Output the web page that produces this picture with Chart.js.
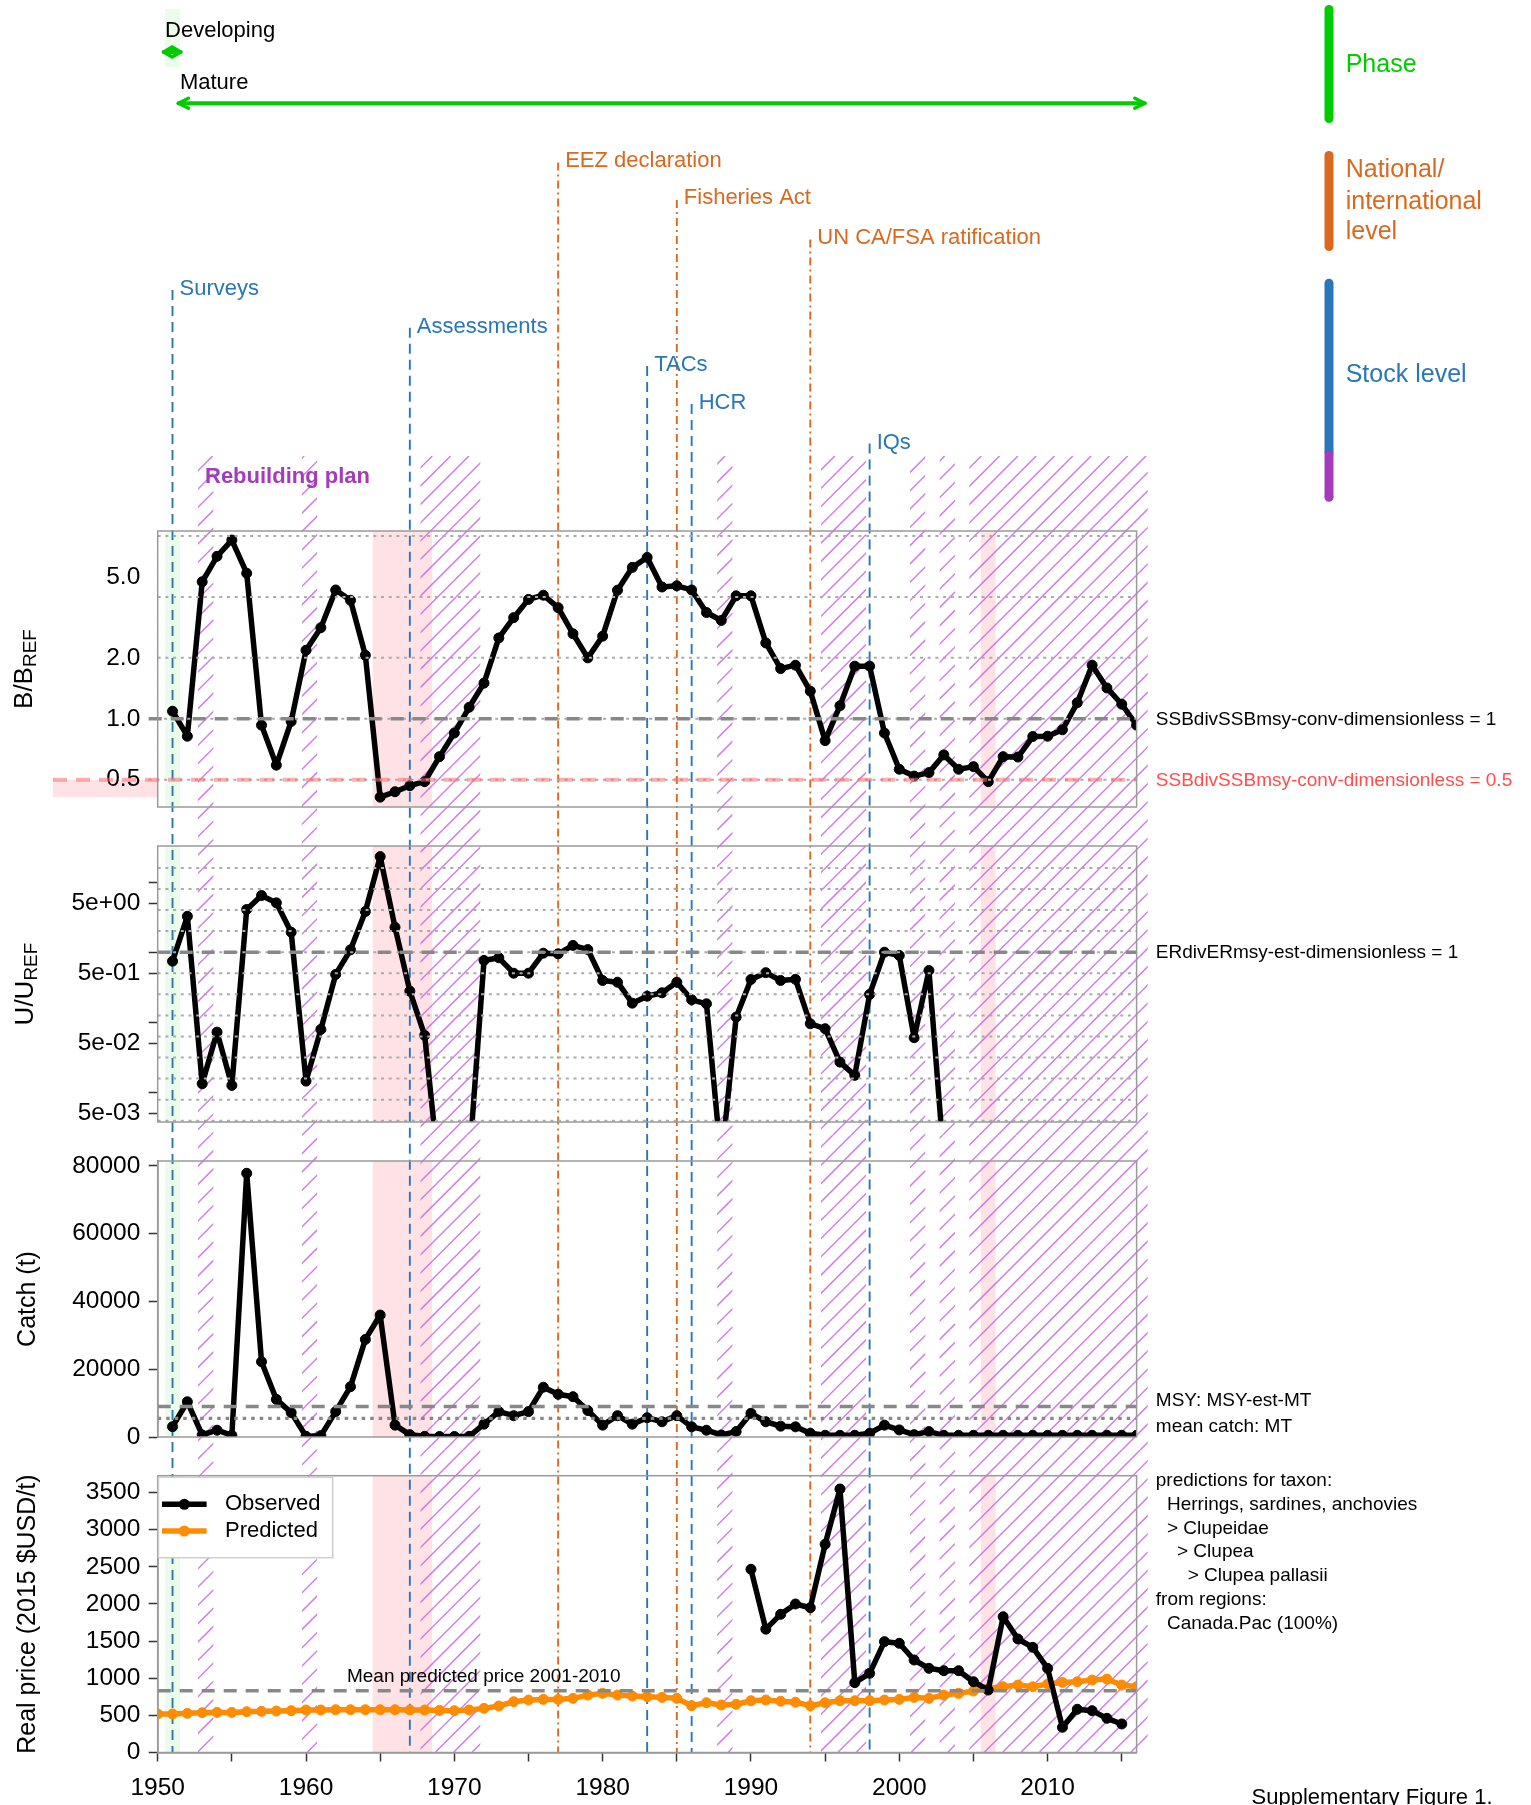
<!DOCTYPE html>
<html>
<head>
<meta charset="utf-8">
<script src="https://cdn.jsdelivr.net/npm/chart.js@4.4.1/dist/chart.umd.min.js"></script>
<style>
html,body{margin:0;padding:0;background:#fff;}
body{width:1531px;height:1805px;position:relative;overflow:hidden;}
canvas{position:absolute;left:0;}
</style>
</head>
<body>
<canvas id="cB" width="1531" height="830" style="top:0px"></canvas>
<canvas id="cU" width="1531" height="305" style="top:830px"></canvas>
<canvas id="cC" width="1531" height="315" style="top:1135px"></canvas>
<canvas id="cP" width="1531" height="355" style="top:1450px"></canvas>
<script>
// ---------------- DATA ----------------
const years = [1950,1951,1952,1953,1954,1955,1956,1957,1958,1959,
  1960,1961,1962,1963,1964,1965,1966,1967,1968,1969,
  1970,1971,1972,1973,1974,1975,1976,1977,1978,1979,
  1980,1981,1982,1983,1984,1985,1986,1987,1988,1989,
  1990,1991,1992,1993,1994,1995,1996,1997,1998,1999,
  2000,2001,2002,2003,2004,2005,2006,2007,2008,2009,
  2010,2011,2012,2013,2014,2015,2016];

const bbref = [null,
  1.09,0.82,4.75,6.35,7.64,5.24,0.93,0.59,0.97,2.18,
  2.82,4.33,3.85,2.06,0.41,0.436,0.467,0.489,0.65,0.85,
  1.14,1.50,2.51,3.16,3.89,4.08,3.54,2.63,2.00,2.56,
  4.32,5.60,6.27,4.48,4.54,4.33,3.35,3.06,4.05,4.05,
  2.37,1.77,1.84,1.37,0.78,1.16,1.82,1.82,0.85,0.563,
  0.521,0.542,0.663,0.563,0.58,0.489,0.65,0.647,0.817,0.82,
  0.882,1.20,1.84,1.42,1.18,0.93];

const uuref = [null,
  0.744,3.26,0.0132,0.0721,0.0125,4.07,6.45,5.07,1.93,0.0144,
  0.0789,0.481,1.08,3.81,23.2,2.27,0.278,0.0648,0.0006,0.0005,
  0.001,0.762,0.832,0.501,0.501,0.968,0.948,1.25,1.09,0.394,
  0.373,0.187,0.235,0.263,0.373,0.209,0.183,0.001,0.118,0.408,
  0.51,0.394,0.41,0.095,0.0807,0.0269,0.0174,0.249,1.0,0.897,
  0.06,0.548,0.0011,null,null,null,null,null,null,null,
  null,null,null,null,null,null];

const catchT = [null,
  3040,10400,600,2000,500,77850,22200,11100,7200,200,
  400,7500,14850,28800,36000,3500,700,200,150,150,
  200,3800,7500,6300,7500,14700,12600,11900,7800,3500,
  6300,3800,5700,4500,6300,3000,2000,600,1600,7000,
  4500,3200,3000,1100,500,500,500,1100,3500,2100,
  700,1600,500,500,500,500,500,500,500,500,
  500,500,500,500,500,500];

const priceObs = [null,null,null,null,null,null,null,null,null,null,
  null,null,null,null,null,null,null,null,null,null,
  null,null,null,null,null,null,null,null,null,null,
  null,null,null,null,null,null,null,null,null,null,
  2466,1660,1860,1999,1949,2803,3547,940,1066,1492,
  1470,1245,1133,1101,1101,953,841,1828,1528,1416,
  1133,339,582,563,460,384,null];

const pricePred = [518,518,527,536,540,540,549,554,558,563,
  572,572,576,576,576,576,576,572,572,567,
  563,572,594,626,684,706,715,715,729,773,
  796,773,760,751,742,729,630,670,639,648,
  697,706,690,677,630,670,697,697,697,706,
  715,742,729,773,796,827,863,885,908,885,
  921,943,952,975,988,908,885];

const bTicks = [0.5, 1, 2, 5];
const bTickLabels = ['0.5', '1.0', '2.0', '5.0'];
const bGrid = [0.5, 1, 2, 4, 8];
const uTicks = [0.005, 0.01, 0.05, 0.1, 0.5, 1, 5, 10];
const uTickLabels = ['5e-03', '', '5e-02', '', '5e-01', '', '5e+00', ''];
const uGrid = [0.00390625, 0.0078125, 0.015625, 0.03125, 0.0625, 0.125, 0.25, 0.5, 1, 2, 4, 8, 16];
const catchTicks = [0, 20000, 40000, 60000, 80000];
const priceTicks = [0, 500, 1000, 1500, 2000, 2500, 3000, 3500];
const yearTicks = [1950,1955,1960,1965,1970,1975,1980,1985,1990,1995,2000,2005,2010,2015];
const yearTickLabels = ['1950','','1960','','1970','','1980','','1990','','2000','','2010',''];

const bTarget = 1;
const bLimit = 0.5;
const uTarget = 1;
const msyCatch = 9000;
const meanCatch = 5520;
const meanPredPrice = 832;

const phaseNames = ['Developing', 'Mature'];
const phaseStart = [1951, 1952];
const phaseEnd = [1951, 2016];
const stockEventNames = ['Surveys', 'Assessments', 'TACs', 'HCR', 'IQs'];
const stockEventYears = [1951, 1967, 1983, 1986, 1998];
const nationalEventNames = ['EEZ declaration', 'Fisheries Act', 'UN CA/FSA ratification'];
const nationalEventYears = [1977, 1985, 1994];
const rebuildStart = [1953, 1960, 1968, 1988, 1995, 2001, 2003, 2005];
const rebuildEnd   = [1953, 1960, 1971, 1988, 1997, 2001, 2003, 2016];
const lowStart = [1965, 2006];
const lowEnd   = [1968, 2006];
const devStart = [1951];
const devEnd   = [1951];

const taxonLines = ['predictions for taxon:', 'Herrings, sardines, anchovies', '> Clupeidae', '> Clupea', '> Clupea pallasii', 'from regions:', 'Canada.Pac (100%)'];

// ---------------- LAYOUT / STYLE ----------------
const FONT = "'Liberation Sans', Arial, Helvetica, sans-serif";
Chart.defaults.font.family = FONT;
Chart.defaults.color = '#000';

const W = 1531, PLOT_LEFT = 157.7, PLOT_RIGHT = 1136.6;
const PANELS = {
  b: {id: 'cB', top: 0,    h: 830, areaTop: 531,    areaBottom: 807},
  u: {id: 'cU', top: 830,  h: 305, areaTop: 846,    areaBottom: 1122},
  c: {id: 'cC', top: 1135, h: 315, areaTop: 1161,   areaBottom: 1437},
  p: {id: 'cP', top: 1450, h: 355, areaTop: 1475.7, areaBottom: 1752.5}
};
const HATCH_TOP = 456, HATCH_BOTTOM = 1752, LINE_BOTTOM = 1752.5;
const HATCH_PHASE = 888.3, HATCH_SP = 18.3;
const HATCH_COLOR = 'rgba(200,105,222,0.85)';
const PINK = '#ffe2e5', GREEN_BAND = '#ebfceb';
const C_GREEN = '#00cc00', C_ORANGE = '#d8691e', C_BLUE = '#2a77b8', C_PURPLE = '#a23cb8';
const STOCK_LABEL_Y = [289, 326.7, 365, 403, 442.6];
const NATIONAL_LABEL_Y = [160.5, 198, 237.5];
const LINE_W = 5.5, POINT_R = 5;

function hatch(ctx, x0, x1, y0, y1, off) {
  ctx.save();
  ctx.beginPath(); ctx.rect(x0, y0, x1 - x0, y1 - y0); ctx.clip();
  ctx.strokeStyle = HATCH_COLOR; ctx.lineWidth = 1.5; ctx.setLineDash([]);
  ctx.beginPath();
  const p0 = y0 + off, p1 = y1 + off;
  const cMin = x0 + p0 - HATCH_SP, cMax = x1 + p1 + HATCH_SP;
  const k0 = Math.floor((cMin - HATCH_PHASE) / HATCH_SP), k1 = Math.ceil((cMax - HATCH_PHASE) / HATCH_SP);
  for (let k = k0; k <= k1; k++) {
    const c = HATCH_PHASE + k * HATCH_SP;
    ctx.moveTo(c - p1, y1); ctx.lineTo(c - p0, y0);
  }
  ctx.stroke();
  ctx.restore();
}

function vline(ctx, x, yTopPage, color, dash, off, H) {
  const y0 = Math.max(yTopPage, off), y1 = Math.min(LINE_BOTTOM, off + H);
  if (y1 <= y0) return;
  ctx.save();
  ctx.strokeStyle = color; ctx.lineWidth = 1.9;
  ctx.setLineDash(dash); ctx.lineDashOffset = y0 - yTopPage;
  ctx.beginPath(); ctx.moveTo(x, y0 - off); ctx.lineTo(x, y1 - off); ctx.stroke();
  ctx.restore();
}

function hline(ctx, x0, x1, y, color, width, dash) {
  ctx.save();
  ctx.strokeStyle = color; ctx.lineWidth = width; ctx.setLineDash(dash);
  ctx.beginPath(); ctx.moveTo(x0, y); ctx.lineTo(x1, y); ctx.stroke();
  ctx.restore();
}

function arrow(ctx, x1, x2, y) {
  ctx.save();
  ctx.strokeStyle = C_GREEN; ctx.lineCap = 'round'; ctx.lineJoin = 'round';
  ctx.lineWidth = 4;
  ctx.beginPath(); ctx.moveTo(x1, y); ctx.lineTo(x2, y); ctx.stroke();
  ctx.lineWidth = 3.5;
  const hl = Math.min(10, (x2 - x1) / 2), hw = 5;
  ctx.beginPath();
  ctx.moveTo(x1 + hl, y - hw); ctx.lineTo(x1, y); ctx.lineTo(x1 + hl, y + hw);
  ctx.moveTo(x2 - hl, y - hw); ctx.lineTo(x2, y); ctx.lineTo(x2 - hl, y + hw);
  ctx.stroke();
  ctx.restore();
}

function rotText(ctx, x, y, parts) {
  ctx.save();
  ctx.translate(x, y); ctx.rotate(-Math.PI / 2);
  ctx.fillStyle = '#000'; ctx.textBaseline = 'alphabetic'; ctx.textAlign = 'left';
  let w = 0;
  parts.forEach(p => { ctx.font = p.size + 'px ' + FONT; p.w = ctx.measureText(p.text).width; w += p.w; });
  let cx = -w / 2;
  parts.forEach(p => { ctx.font = p.size + 'px ' + FONT; ctx.fillText(p.text, cx, p.dy || 0); cx += p.w; });
  ctx.restore();
}

function makeOverlay(key) {
  const P = PANELS[key], off = P.top, H = P.h;
  return {
    id: 'overlay_' + key,
    beforeDraw(chart) {
      const ctx = chart.ctx, ca = chart.chartArea;
      const X = v => chart.scales.x.getPixelForValue(v);
      ctx.save();
      ctx.fillStyle = GREEN_BAND;
      devStart.forEach((s, i) => ctx.fillRect(X(s - 0.5), ca.top, X(devEnd[i] + 0.5) - X(s - 0.5), ca.bottom - ca.top));
      if (key === 'b') {
        ctx.fillRect(X(phaseStart[0] - 0.5), 9, X(phaseEnd[0] + 0.5) - X(phaseStart[0] - 0.5), 58);
        const Y = v => chart.scales.y.getPixelForValue(v);
        ctx.fillStyle = PINK;
        ctx.fillRect(53, Y(bLimit), PLOT_LEFT - 53, 17.5);
      }
      ctx.fillStyle = PINK;
      lowStart.forEach((s, i) => ctx.fillRect(X(s - 0.5), ca.top, X(lowEnd[i] + 0.5) - X(s - 0.5), ca.bottom - ca.top));
      const hy0 = Math.max(HATCH_TOP, off), hy1 = Math.min(HATCH_BOTTOM, off + H);
      if (hy1 > hy0) {
        rebuildStart.forEach((s, i) => hatch(ctx, X(s - 0.28), X(rebuildEnd[i] + 0.75), hy0 - off, hy1 - off, off));
      }
      stockEventYears.forEach((yr, i) => vline(ctx, X(yr), STOCK_LABEL_Y[i] + 1, C_BLUE, [10, 6], off, H));
      nationalEventYears.forEach((yr, i) => vline(ctx, X(yr), NATIONAL_LABEL_Y[i] + 2, C_ORANGE, [8, 4, 2, 4], off, H));
      ctx.restore();
    },
    afterDatasetsDraw(chart) {
      const ctx = chart.ctx, ca = chart.chartArea;
      const Y = v => chart.scales.y.getPixelForValue(v);
      const dotted = [3, 4.7];
      const dashed = [13, 9];
      if (key === 'b') {
        bGrid.forEach(v => hline(ctx, v <= 1 ? ca.left - 9 : ca.left, ca.right, Y(v), '#ababab', 2, dotted));
        hline(ctx, ca.left - 9, ca.right, Y(bTarget), '#888', 3.4, dashed);
        hline(ctx, 53, ca.right, Y(bLimit), 'rgba(255,105,105,0.55)', 4, [14, 9]);
      } else if (key === 'u') {
        uGrid.forEach(v => hline(ctx, ca.left, ca.right, Y(v), '#ababab', 2, dotted));
        hline(ctx, ca.left, ca.right, Y(uTarget), '#888', 3.4, dashed);
      } else if (key === 'c') {
        hline(ctx, ca.left, ca.right, Y(msyCatch), '#888', 3.4, dashed);
        hline(ctx, ca.left, ca.right, Y(meanCatch), '#888', 3.2, [3.5, 5]);
      } else if (key === 'p') {
        hline(ctx, ca.left, ca.right, Y(meanPredPrice), '#888', 3.4, dashed);
      }
      ctx.save();
      ctx.strokeStyle = '#9a9a9a'; ctx.lineWidth = 1.5; ctx.setLineDash([]);
      ctx.strokeRect(ca.left, ca.top, ca.right - ca.left, ca.bottom - ca.top);
      ctx.restore();
    },
    afterDraw(chart) {
      const ctx = chart.ctx, ca = chart.chartArea;
      const X = v => chart.scales.x.getPixelForValue(v);
      const Y = v => chart.scales.y.getPixelForValue(v);
      ctx.save();
      ctx.textBaseline = 'middle'; ctx.textAlign = 'left';
      const midY = (ca.top + ca.bottom) / 2;
      if (key === 'b') {
        ctx.fillStyle = '#000'; ctx.font = '22px ' + FONT;
        const phaseLabelY = [30.7, 82.7], phaseArrowY = [52, 103.3];
        phaseNames.forEach((n, i) => {
          ctx.fillText(n, X(phaseStart[i] - 0.5), phaseLabelY[i]);
          arrow(ctx, X(phaseStart[i] - 0.6), X(phaseEnd[i] + 0.55), phaseArrowY[i]);
        });
        ctx.font = '22px ' + FONT;
        ctx.fillStyle = C_BLUE;
        stockEventNames.forEach((n, i) => ctx.fillText(n, X(stockEventYears[i]) + 7, STOCK_LABEL_Y[i]));
        ctx.fillStyle = C_ORANGE;
        nationalEventNames.forEach((n, i) => ctx.fillText(n, X(nationalEventYears[i]) + 7, NATIONAL_LABEL_Y[i]));
        ctx.fillStyle = C_PURPLE; ctx.font = 'bold 22px ' + FONT;
        ctx.fillText('Rebuilding plan', 205, 476.5);
        const bx = 1329;
        ctx.lineWidth = 9; ctx.lineCap = 'round';
        ctx.strokeStyle = C_GREEN; ctx.beginPath(); ctx.moveTo(bx, 9.5); ctx.lineTo(bx, 118.5); ctx.stroke();
        ctx.strokeStyle = C_ORANGE; ctx.beginPath(); ctx.moveTo(bx, 155.5); ctx.lineTo(bx, 246.5); ctx.stroke();
        ctx.strokeStyle = C_BLUE; ctx.beginPath(); ctx.moveTo(bx, 283.2); ctx.lineTo(bx, 451.7); ctx.stroke();
        ctx.lineCap = 'butt';
        ctx.strokeStyle = C_PURPLE; ctx.beginPath(); ctx.moveTo(bx, 451.7); ctx.lineTo(bx, 497.2); ctx.stroke();
        ctx.fillStyle = C_PURPLE; ctx.beginPath(); ctx.arc(bx, 497.2, 4.5, 0, Math.PI * 2); ctx.fill();
        ctx.font = '25px ' + FONT;
        ctx.fillStyle = C_GREEN; ctx.fillText('Phase', 1345.7, 65);
        ctx.fillStyle = C_ORANGE;
        ctx.fillText('National/', 1345.7, 170.6);
        ctx.fillText('international', 1345.7, 201.7);
        ctx.fillText('level', 1345.7, 232.4);
        ctx.fillStyle = C_BLUE; ctx.fillText('Stock level', 1345.7, 375);
        ctx.font = '19px ' + FONT;
        ctx.fillStyle = '#000'; ctx.fillText('SSBdivSSBmsy-conv-dimensionless = 1', 1155.8, Y(bTarget) + 1);
        ctx.fillStyle = '#ff4d4d'; ctx.fillText('SSBdivSSBmsy-conv-dimensionless = 0.5', 1155.8, Y(bLimit) + 1);
        rotText(ctx, 32, midY, [{text: 'B/B', size: 26}, {text: 'REF', size: 19, dy: 4}]);
      } else if (key === 'u') {
        ctx.font = '19px ' + FONT; ctx.fillStyle = '#000';
        ctx.fillText('ERdivERmsy-est-dimensionless = 1', 1155.8, Y(uTarget) + 1);
        rotText(ctx, 33, midY, [{text: 'U/U', size: 26}, {text: 'REF', size: 19, dy: 4}]);
      } else if (key === 'c') {
        ctx.font = '19px ' + FONT; ctx.fillStyle = '#000';
        ctx.fillText('MSY: MSY-est-MT', 1155.8, Y(msyCatch) - 6);
        ctx.fillText('mean catch: MT', 1155.8, Y(meanCatch) + 8.5);
        rotText(ctx, 35, midY, [{text: 'Catch (t)', size: 25}]);
      } else if (key === 'p') {
        ctx.font = '19px ' + FONT; ctx.fillStyle = '#000';
        const indent = [0, 11.2, 11.2, 21.2, 31.9, 0, 11.2];
        taxonLines.forEach((t, i) => ctx.fillText(t, 1155.8 + indent[i], ca.top + 5 + i * 23.8));
        ctx.textAlign = 'center';
        ctx.fillText('Mean predicted price 2001-2010', 483.7, Y(meanPredPrice) - 14);
        ctx.textAlign = 'left';
        const lx = ca.left + 0.8, ly = ca.top + 1.6;
        ctx.fillStyle = '#fff'; ctx.fillRect(lx, ly, 174.2, 80.4);
        ctx.strokeStyle = '#cfcfcf'; ctx.lineWidth = 1.5; ctx.strokeRect(lx, ly, 174.2, 80.4);
        const ent = [['Observed', '#000', 1504.3], ['Predicted', '#ff8c00', 1531]];
        ent.forEach(([name, col, yy]) => {
          const y = yy - off;
          ctx.strokeStyle = col; ctx.lineWidth = LINE_W; ctx.lineCap = 'butt';
          ctx.beginPath(); ctx.moveTo(162, y); ctx.lineTo(206.6, y); ctx.stroke();
          ctx.fillStyle = col; ctx.beginPath(); ctx.arc(184.3, y, POINT_R + 0.5, 0, Math.PI * 2); ctx.fill();
          ctx.fillStyle = '#000'; ctx.font = '22px ' + FONT; ctx.fillText(name, 225, y);
        });
        ctx.font = '22px ' + FONT; ctx.fillStyle = '#000';
        ctx.fillText('Supplementary Figure 1.', 1251.6, 1798 - off);
        rotText(ctx, 35, midY, [{text: 'Real price (2015 $USD/t)', size: 25}]);
      }
      ctx.restore();
    }
  };
}

function series(arr, color, extra) {
  return Object.assign({
    data: years.map((y, i) => ({x: y, y: arr[i]})),
    borderColor: color, backgroundColor: color,
    pointBackgroundColor: color, pointBorderColor: color,
    borderWidth: LINE_W, pointRadius: POINT_R, pointBorderWidth: 1,
    tension: 0, spanGaps: false, borderJoinStyle: 'round', borderCapStyle: 'round'
  }, extra || {});
}

function yScale(type, min, max, ticks, labels, withTickMarks, axisLine) {
  return {
    type: type, min: min, max: max, position: 'left',
    afterBuildTicks: s => { s.ticks = ticks.map(v => ({value: v})); },
    afterFit: s => { s.width = PLOT_LEFT; s.paddingTop = 0; s.paddingBottom = 0; },
    grid: withTickMarks
      ? {display: true, drawOnChartArea: false, drawTicks: true, tickLength: 9, tickColor: '#333', tickWidth: 1.5}
      : {display: false, drawTicks: false},
    border: axisLine ? {display: true, color: '#666', width: 1.5} : {display: false},
    ticks: {autoSkip: false, padding: withTickMarks ? 8.4 : 17.4, font: {size: 24.5}, color: '#000',
      callback: (v, i) => labels[i]}
  };
}

function makeChart(key, datasets, y, showX) {
  const P = PANELS[key];
  const x = showX ? {
    type: 'linear', min: 1950, max: 2016, position: 'bottom',
    afterBuildTicks: s => { s.ticks = yearTicks.map(v => ({value: v})); },
    afterFit: s => { s.height = P.top + P.h - P.areaBottom; s.paddingLeft = 0; s.paddingRight = 0; },
    grid: {display: true, drawOnChartArea: false, drawTicks: true, tickLength: 9, tickColor: '#333', tickWidth: 1.5},
    border: {display: true, color: '#666', width: 1.5},
    ticks: {autoSkip: false, maxRotation: 0, minRotation: 0, padding: 12, font: {size: 24.5}, color: '#000',
      callback: (v, i) => yearTickLabels[i]}
  } : {type: 'linear', min: 1950, max: 2016, display: false};
  return new Chart(document.getElementById(P.id), {
    type: 'line',
    data: {datasets: datasets},
    options: {
      responsive: false, animation: false, devicePixelRatio: 1, events: [],
      layout: {padding: {left: 0, right: W - PLOT_RIGHT, top: P.areaTop - P.top,
        bottom: showX ? 0 : (P.top + P.h - P.areaBottom)}},
      scales: {x: x, y: y},
      plugins: {legend: {display: false}, tooltip: {enabled: false}}
    },
    plugins: [makeOverlay(key)]
  });
}

makeChart('b', [series(bbref, '#000')],
  yScale('logarithmic', 0.3665, 8.47, bTicks, bTickLabels, false, false), false);
makeChart('u', [series(uuref, '#000', {clip: {left: 10, top: 10, right: 10, bottom: 0}})],
  yScale('logarithmic', 0.00375, 32.9, uTicks, uTickLabels, true, false), false);
makeChart('c', [series(catchT, '#000')],
  yScale('linear', 0, 81476, catchTicks, catchTicks.map(String), true, true), false);
makeChart('p', [series(priceObs, '#000'), series(pricePred, '#ff8c00')],
  yScale('linear', 0, 3726, priceTicks, priceTicks.map(String), true, true), true);
</script>
</body>
</html>
